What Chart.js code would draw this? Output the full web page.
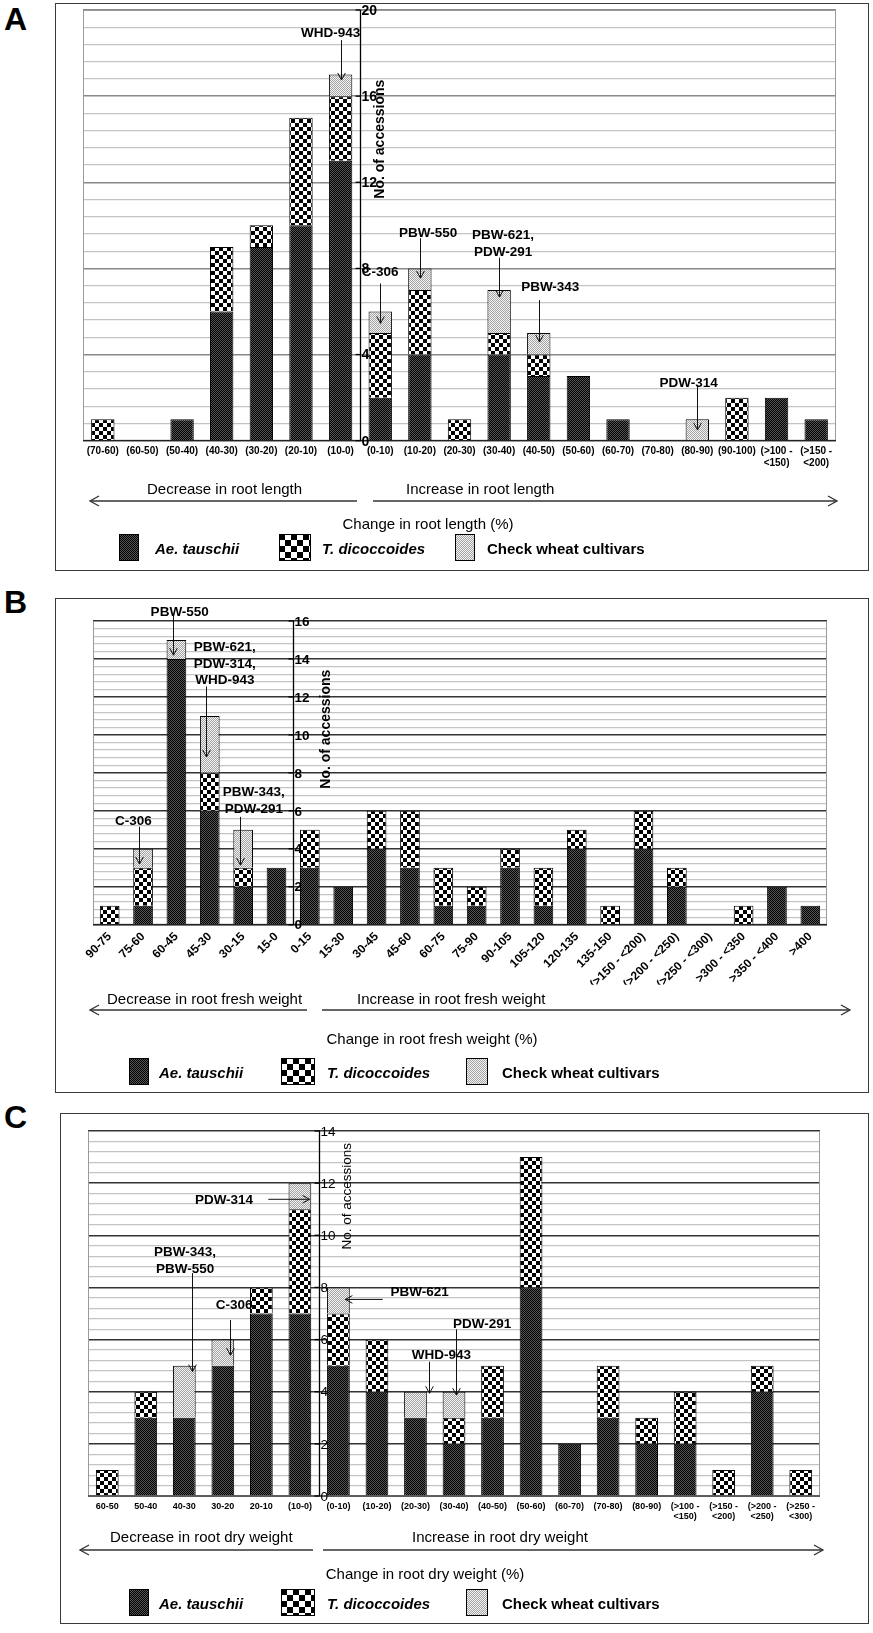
<!DOCTYPE html>
<html><head><meta charset="utf-8">
<script src="https://cdn.jsdelivr.net/npm/chart.js@4.4.1/dist/chart.umd.min.js"></script>
<style>
html,body{margin:0;padding:0;background:#fff}
body{position:relative;width:873px;height:1633px;overflow:hidden;font-family:'Liberation Sans',Arial,Helvetica,sans-serif;color:#000}
.box{position:absolute;border:1.5px solid #3a3a3a;box-sizing:border-box;pointer-events:none;z-index:2}
canvas.ch{position:absolute;z-index:1}
.t{position:absolute;white-space:nowrap;line-height:1;transform:translateY(-50%);z-index:3}
.c{transform:translate(-50%,-50%)}
.letter{position:absolute;font-weight:bold;font-size:32px;line-height:1}
.dir{font-size:15px}
.lg{font-size:15px;font-weight:bold}
.sw{position:absolute;z-index:3}
svg{position:absolute;left:0;top:0;z-index:3}
</style></head><body>
<div class="letter" style="left:4px;top:3px">A</div>
<div class="letter" style="left:4px;top:586px">B</div>
<div class="letter" style="left:4px;top:1101px">C</div>

<canvas class="ch" id="cA" width="814" height="568" style="left:55px;top:3px;width:814px;height:568px"></canvas>
<div class="box" style="left:55px;top:3px;width:814px;height:568px"></div>
<div class="t dir" style="left:147px;top:488px">Decrease in root length</div>
<div class="t dir" style="left:406px;top:488px">Increase in root length</div>
<div class="t dir c" style="left:428px;top:523px">Change in root length (%)</div>
<canvas class="sw" id="lgA0" width="20" height="27" style="left:119px;top:534px"></canvas>
<div class="t lg" style="left:155px;top:548px"><i>Ae. tauschii</i></div>
<canvas class="sw" id="lgA1" width="32" height="27" style="left:279px;top:534px"></canvas>
<div class="t lg" style="left:322px;top:548px"><i>T. dicoccoides</i></div>
<canvas class="sw" id="lgA2" width="20" height="27" style="left:455px;top:534px"></canvas>
<div class="t lg" style="left:487px;top:548px">Check wheat cultivars</div>

<canvas class="ch" id="cB" width="814" height="495" style="left:55px;top:598px;width:814px;height:495px"></canvas>
<div class="box" style="left:55px;top:598px;width:814px;height:495px"></div>
<div class="t dir" style="left:107px;top:998px">Decrease in root fresh weight</div>
<div class="t dir" style="left:357px;top:998px">Increase in root fresh weight</div>
<div class="t dir c" style="left:432px;top:1038px">Change in root fresh weight (%)</div>
<canvas class="sw" id="lgB0" width="20" height="27" style="left:129px;top:1058px"></canvas>
<div class="t lg" style="left:159px;top:1072px"><i>Ae. tauschii</i></div>
<canvas class="sw" id="lgB1" width="34" height="27" style="left:281px;top:1058px"></canvas>
<div class="t lg" style="left:327px;top:1072px"><i>T. dicoccoides</i></div>
<canvas class="sw" id="lgB2" width="22" height="27" style="left:466px;top:1058px"></canvas>
<div class="t lg" style="left:502px;top:1072px">Check wheat cultivars</div>

<canvas class="ch" id="cC" width="809" height="511" style="left:60px;top:1113px;width:809px;height:511px"></canvas>
<div class="box" style="left:60px;top:1113px;width:809px;height:511px"></div>
<div class="t dir" style="left:110px;top:1536px">Decrease in root dry weight</div>
<div class="t dir" style="left:412px;top:1536px">Increase in root dry weight</div>
<div class="t dir c" style="left:425px;top:1573px">Change in root dry weight (%)</div>
<canvas class="sw" id="lgC0" width="20" height="27" style="left:129px;top:1589px"></canvas>
<div class="t lg" style="left:159px;top:1603px"><i>Ae. tauschii</i></div>
<canvas class="sw" id="lgC1" width="34" height="27" style="left:281px;top:1589px"></canvas>
<div class="t lg" style="left:327px;top:1603px"><i>T. dicoccoides</i></div>
<canvas class="sw" id="lgC2" width="22" height="27" style="left:466px;top:1589px"></canvas>
<div class="t lg" style="left:502px;top:1603px">Check wheat cultivars</div>

<svg width="873" height="1633" viewBox="0 0 873 1633">
 <g stroke="#333" stroke-width="1.3" fill="none">
  <line x1="90" y1="501" x2="357" y2="501"/><polyline points="99,496 90,501 99,506"/>
  <line x1="373" y1="501" x2="837" y2="501"/><polyline points="828,496 837,501 828,506"/>
  <line x1="90" y1="1010" x2="307" y2="1010"/><polyline points="99,1005 90,1010 99,1015"/>
  <line x1="322" y1="1010" x2="850" y2="1010"/><polyline points="841,1005 850,1010 841,1015"/>
  <line x1="80" y1="1550" x2="313" y2="1550"/><polyline points="89,1545 80,1550 89,1555"/>
  <line x1="323" y1="1550" x2="823" y2="1550"/><polyline points="814,1545 823,1550 814,1555"/>
 </g>
</svg>

<script>
// ---------------- DATA ----------------
const seriesNames = ['Ae. tauschii', 'T. dicoccoides', 'Check wheat cultivars'];

// Panel A: change in root length
const catA = ['(70-60)','(60-50)','(50-40)','(40-30)','(30-20)','(20-10)','(10-0)','(0-10)','(10-20)','(20-30)','(30-40)','(40-50)','(50-60)','(60-70)','(70-80)','(80-90)','(90-100)',['(>100 -','<150)'],['(>150 -','<200)']];
const aeA = [0,0,1,6,9,10,13,2,4,0,4,3,3,1,0,0,0,2,1];
const tdA = [1,0,0,3,1,5,3,3,3,1,1,1,0,0,0,0,2,0,0];
const ckA = [0,0,0,0,0,0,1,1,1,0,2,1,0,0,0,1,0,0,0];
const yTicksA = [0,4,8,12,16,20];

// Panel B: change in root fresh weight
const catB = ['90-75','75-60','60-45','45-30','30-15','15-0','0-15','15-30','30-45','45-60','60-75','75-90','90-105','105-120','120-135','135-150','(>150 - <200)','(>200 - <250)','(>250 - <300)','>300 - <350','>350 - <400','>400'];
const aeB = [0,1,14,6,2,3,3,2,4,3,1,1,3,1,4,0,4,2,0,0,2,1];
const tdB = [1,2,0,2,1,0,2,0,2,3,2,1,1,2,1,1,2,1,0,1,0,0];
const ckB = [0,1,1,3,2,0,0,0,0,0,0,0,0,0,0,0,0,0,0,0,0,0];
const yTicksB = [0,2,4,6,8,10,12,14,16];

// Panel C: change in root dry weight
const catC = ['60-50','50-40','40-30','30-20','20-10','(10-0)','(0-10)','(10-20)','(20-30)','(30-40)','(40-50)','(50-60)','(60-70)','(70-80)','(80-90)',['(>100 -','<150)'],['(>150 -','<200)'],['(>200 -','<250)'],['(>250 -','<300)']];
const aeC = [0,3,3,5,7,7,5,4,3,2,3,8,2,3,2,2,0,4,0];
const tdC = [1,1,0,0,1,4,2,2,0,1,2,5,0,2,1,2,1,1,1];
const ckC = [0,0,2,1,0,1,1,0,1,1,0,0,0,0,0,0,0,0,0];
const yTicksC = [0,2,4,6,8,10,12,14];

// cultivar call-outs (category index / value units)
const notesA = [
  {lines:['WHD-943'], tx:5.75, ty:18.9, ax:6, from:18.6, to:16.75},
  {lines:['C-306'], tx:7.0, ty:7.8, ax:7, from:7.3, to:5.45},
  {lines:['PBW-550'], tx:8.21, ty:9.65, ax:8, from:9.4, to:7.55},
  {lines:['PBW-621,','PDW-291'], tx:10.1, ty:9.55, ax:10, from:8.5, to:6.67},
  {lines:['PBW-343'], tx:11.29, ty:7.14, ax:11, from:6.53, to:4.58},
  {lines:['PDW-314'], tx:14.78, ty:2.68, ax:15, from:2.5, to:0.5}
];
const notesB = [
  {lines:['PBW-550'], tx:2.1, ty:16.47, ax:1.89, from:16.4, to:14.2},
  {lines:['PBW-621,','PDW-314,','WHD-943'], tx:3.45, ty:14.6, ax:2.88, from:12.55, to:8.84},
  {lines:['PBW-343,','PDW-291'], tx:4.32, ty:6.95, ax:3.9, from:5.68, to:3.14},
  {lines:['C-306'], tx:0.71, ty:5.46, ax:0.886, from:5.16, to:3.2}
];
const notesC = [
  {lines:['PDW-314'], tx:3.03, ty:11.35, h:11.38, from:4.18, to:5.25},
  {lines:['PBW-343,','PBW-550'], tx:2.02, ty:9.33, ax:2.21, from:8.55, to:4.77},
  {lines:['C-306'], tx:3.29, ty:7.3, ax:3.19, from:6.75, to:5.4},
  {lines:['PBW-621'], tx:8.11, ty:7.81, h:7.54, from:7.15, to:6.18},
  {lines:['WHD-943'], tx:8.67, ty:5.41, ax:8.34, from:5.15, to:3.94},
  {lines:['PDW-291'], tx:9.73, ty:6.59, ax:9.06, from:6.39, to:3.87}
];

// ---------------- PATTERNS ----------------
const FONT = "'Liberation Sans', Arial, sans-serif";
function tile(size, paint){const c=document.createElement('canvas');c.width=c.height=size;paint(c.getContext('2d'));return c;}
const aeTile = tile(2, g=>{g.fillStyle='#000';g.fillRect(0,0,2,2);g.fillStyle='#555';g.fillRect(0,0,1,1);g.fillRect(1,1,1,1);});
const tdTile = tile(8, g=>{g.fillStyle='#fff';g.fillRect(0,0,8,8);g.fillStyle='#000';g.fillRect(0,0,4,4);g.fillRect(4,4,4,4);});
const tdBigTile = tile(12, g=>{g.fillStyle='#fff';g.fillRect(0,0,12,12);g.fillStyle='#000';g.fillRect(0,0,6,6);g.fillRect(6,6,6,6);});
const ckTile = tile(2, g=>{g.fillStyle='#f2f2f2';g.fillRect(0,0,2,2);g.fillStyle='#a4a4a4';g.fillRect(0,0,1,1);g.fillRect(1,1,1,1);});

function swatch(id, t){
  const c=document.getElementById(id), g=c.getContext('2d');
  g.fillStyle=g.createPattern(t,'repeat');g.fillRect(0,0,c.width,c.height);
  g.strokeStyle='#000';g.lineWidth=1;g.strokeRect(0.5,0.5,c.width-1,c.height-1);
}
['A','B','C'].forEach(p=>{swatch('lg'+p+'0',aeTile);swatch('lg'+p+'1',tdBigTile);swatch('lg'+p+'2',ckTile);});

// ---------------- PLUGIN: central y axis + call-outs ----------------
function midAxis(o){
  return {
    id:'midAxis',
    beforeDatasetsDraw(chart){
      const {ctx, chartArea:ca} = chart;
      ctx.save();ctx.strokeStyle='#9a9a9a';ctx.lineWidth=1;
      ctx.strokeRect(ca.left+0.5,ca.top+0.5,ca.right-ca.left-1,ca.bottom-ca.top-1);
      ctx.restore();
    },
    afterDraw(chart){
      const {ctx, chartArea:ca, scales:{x,y}} = chart;
      ctx.save();
      const y0 = y.getPixelForValue(0);
      ctx.strokeStyle='#222';ctx.lineWidth=1.2;
      ctx.beginPath();ctx.moveTo(ca.left,y0);ctx.lineTo(ca.right,y0);ctx.stroke();
      const ax = Math.round(x.getPixelForValue(o.split-0.5))+0.5;
      ctx.strokeStyle='#000';ctx.lineWidth=1.3;
      ctx.beginPath();ctx.moveTo(ax,y0);ctx.lineTo(ax,y.getPixelForValue(o.max));ctx.stroke();
      ctx.fillStyle='#000';ctx.font=o.tickFont;ctx.textAlign='left';ctx.textBaseline='middle';
      o.ticks.forEach(v=>{
        const py=y.getPixelForValue(v);
        ctx.beginPath();ctx.moveTo(ax-5,py);ctx.lineTo(ax,py);ctx.stroke();
        ctx.fillText(String(v),ax+1,py+1);
      });
      ctx.save();ctx.translate(ax+o.titleDx,y.getPixelForValue(o.titleAt));ctx.rotate(-Math.PI/2);
      ctx.textAlign='center';ctx.font=o.titleFont;ctx.fillText('No. of accessions',0,0);ctx.restore();
      // call-outs
      o.notes.forEach(n=>{
        ctx.font=o.noteFont;ctx.textAlign='center';ctx.textBaseline='middle';ctx.fillStyle='#000';
        const tx=x.getPixelForValue(n.tx), ty=y.getPixelForValue(n.ty);
        n.lines.forEach((l,i)=>ctx.fillText(l,tx,ty+i*o.noteLH));
        let x1,y1,x2,y2;
        if(n.h!==undefined){y1=y2=y.getPixelForValue(n.h);x1=x.getPixelForValue(n.from);x2=x.getPixelForValue(n.to);}
        else{x1=x2=Math.round(x.getPixelForValue(n.ax))+0.5;y1=y.getPixelForValue(n.from);y2=y.getPixelForValue(n.to);}
        ctx.strokeStyle='#111';ctx.lineWidth=1;
        ctx.beginPath();ctx.moveTo(x1,y1);ctx.lineTo(x2,y2);ctx.stroke();
        const a=Math.atan2(y2-y1,x2-x1), L=8, s=0.5;
        ctx.beginPath();
        ctx.moveTo(x2-L*Math.cos(a-s),y2-L*Math.sin(a-s));ctx.lineTo(x2,y2);
        ctx.lineTo(x2-L*Math.cos(a+s),y2-L*Math.sin(a+s));ctx.stroke();
      });
      ctx.restore();
    }
  };
}

function isMaj(v,m){return Math.abs(v/m-Math.round(v/m))<1e-6;}

function build(id, labels, ae, td, ck, c){
  const el=document.getElementById(id), g=el.getContext('2d');
  const pats=[g.createPattern(aeTile,'repeat'),g.createPattern(tdTile,'repeat'),g.createPattern(ckTile,'repeat')];
  const mk=(i,data)=>({label:seriesNames[i],data,backgroundColor:pats[i],borderColor:'#000',borderWidth:1,barPercentage:0.59,categoryPercentage:1});
  return new Chart(el,{
    type:'bar',
    data:{labels,datasets:[mk(0,ae),mk(1,td),mk(2,ck)]},
    options:{
      responsive:false,animation:false,devicePixelRatio:1,
      layout:{padding:c.pad},
      plugins:{legend:{display:false},tooltip:{enabled:false}},
      scales:{
        x:{stacked:true,offset:true,grid:{display:false,drawTicks:false},border:{display:false},
           ticks:{autoSkip:false,color:'#000',font:c.xFont,maxRotation:c.rot,minRotation:c.rot,padding:c.xPad},
           afterFit:s=>{s.height=c.xH;}},
        y:{stacked:true,min:0,max:c.max,border:{display:false},
           ticks:{display:false,stepSize:c.step},
           grid:{drawTicks:false,
                 color:t=>isMaj(t.tick.value,c.major)?c.majC:c.minC,
                 lineWidth:t=>isMaj(t.tick.value,c.major)?c.majW:c.minW},
           afterFit:s=>{s.width=0;}}
      }
    },
    plugins:[midAxis(c.mid)]
  });
}

build('cA',catA,aeA,tdA,ckA,{
  pad:{left:28,right:33,top:7,bottom:95.3},xH:35,xPad:5,rot:0,
  xFont:{family:FONT,size:10,weight:'bold',lineHeight:1.15},
  max:20,step:0.8,major:4,majC:'#8a8a8a',minC:'#c4c4c4',majW:1.4,minW:1.3,
  mid:{split:7,max:20,ticks:yTicksA,tickFont:'bold 14px '+FONT,titleFont:'bold 14px '+FONT,titleDx:20,titleAt:14.0,
       notes:notesA,noteFont:'bold 13.5px '+FONT,noteLH:17}
});
build('cB',catB,aeB,tdB,ckB,{
  pad:{left:38,right:42,top:23,bottom:108.3},xH:60,xPad:5,rot:45,
  xFont:{family:FONT,size:12,weight:'bold'},
  max:16,step:0.4,major:2,majC:'#333',minC:'#c4c4c4',majW:1.5,minW:1.2,
  mid:{split:6,max:16,ticks:yTicksB,tickFont:'bold 13.5px '+FONT,titleFont:'bold 14px '+FONT,titleDx:33,titleAt:10.3,
       notes:notesB,noteFont:'bold 13.5px '+FONT,noteLH:16.5}
});
build('cC',catC,aeC,tdC,ckC,{
  pad:{left:28,right:49,top:18,bottom:98},xH:30,xPad:5,rot:0,
  xFont:{family:FONT,size:9,weight:'bold',lineHeight:1.15},
  max:14,step:0.4,major:2,majC:'#333',minC:'#c4c4c4',majW:1.5,minW:1.2,
  mid:{split:6,max:14,ticks:yTicksC,tickFont:'13.5px '+FONT,titleFont:'13.5px '+FONT,titleDx:28,titleAt:11.5,
       notes:notesC,noteFont:'bold 13.5px '+FONT,noteLH:16.7}
});
</script>
</body></html>
